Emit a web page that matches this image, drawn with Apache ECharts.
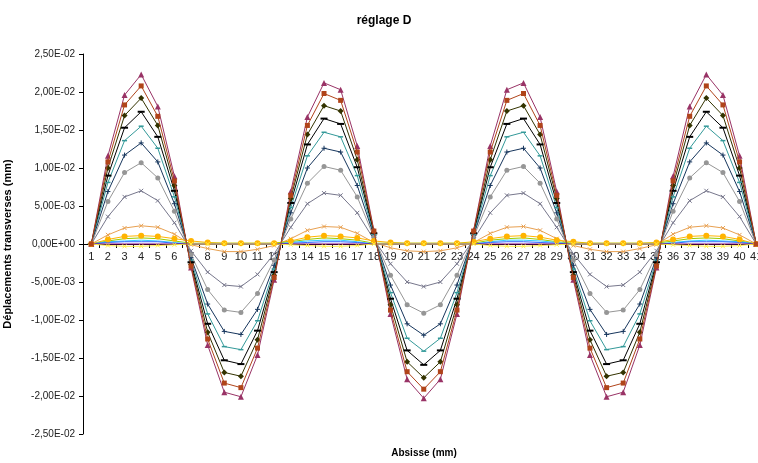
<!DOCTYPE html>
<html>
<head>
<meta charset="utf-8">
<script src="https://cdn.jsdelivr.net/npm/echarts@6/dist/echarts.min.js"></script>
<style>html,body{margin:0;padding:0;background:#fff}#c{width:758px;height:463px}</style>
</head>
<body>
<div id="c"></div>
<script>
const categories = ['1','2','3','4','5','6','7','8','9','10','11','12','13','14','15','16','17','18','19','20','21','22','23','24','25','26','27','28','29','30','31','32','33','34','35','36','37','38','39','40','41'];
const yTicks = [-0.025,-0.02,-0.015,-0.01,-0.005,0,0.005,0.01,0.015,0.02,0.025];

const s1 = [0,.0116,.0196,.0223,.0181,.0089,-.0031,-.0133,-.0195,-.0201,-.0146,-.0047,.0069,.0167,.0212,.0203,.0129,.0018,-.0092,-.0178,-.0203,-.0178,-.0092,.0018,.0129,.0203,.0212,.0167,.0069,-.0047,-.0146,-.0201,-.0195,-.0133,-.0031,.0089,.0181,.0223,.0196,.0116,0];
const s2 = [0,.0108,.0183,.0208,.0168,.0083,-.0029,-.0125,-.0183,-.0189,-.0137,-.0044,.0064,.0156,.0198,.0189,.0121,.0017,-.0087,-.0168,-.0191,-.0168,-.0087,.0017,.0121,.0189,.0198,.0156,.0064,-.0044,-.0137,-.0189,-.0183,-.0125,-.0029,.0083,.0168,.0208,.0183,.0108,0];
const s3 = [0,.0100,.0169,.0192,.0156,.0077,-.0027,-.0116,-.0169,-.0174,-.0126,-.0041,.0060,.0144,.0182,.0175,.0111,.0015,-.0080,-.0155,-.0176,-.0155,-.0080,.0015,.0111,.0175,.0182,.0144,.0060,-.0041,-.0126,-.0174,-.0169,-.0116,-.0027,.0077,.0156,.0192,.0169,.0100,0];
const s4 = [0,.0090,.0153,.0174,.0141,.0070,-.0024,-.0105,-.0153,-.0158,-.0114,-.0037,.0054,.0131,.0165,.0158,.0101,.0014,-.0072,-.0140,-.0159,-.0140,-.0072,.0014,.0101,.0158,.0165,.0131,.0054,-.0037,-.0114,-.0158,-.0153,-.0105,-.0024,.0070,.0141,.0174,.0153,.0090,0];
const s5 = [0,.0081,.0136,.0155,.0126,.0062,-.0021,-.0092,-.0135,-.0139,-.0101,-.0033,.0048,.0116,.0147,.0141,.0090,.0012,-.0064,-.0124,-.0141,-.0124,-.0064,.0012,.0090,.0141,.0147,.0116,.0048,-.0033,-.0101,-.0139,-.0135,-.0092,-.0021,.0062,.0126,.0155,.0136,.0081,0];
const s6 = [0,.0069,.0117,.0133,.0108,.0053,-.0018,-.0079,-.0115,-.0119,-.0086,-.0028,.0041,.0100,.0126,.0121,.0077,.0011,-.0054,-.0105,-.0120,-.0105,-.0054,.0011,.0077,.0121,.0126,.0100,.0041,-.0028,-.0086,-.0119,-.0115,-.0079,-.0018,.0053,.0108,.0133,.0117,.0069,0];
const s7 = [0,.0056,.0094,.0107,.0087,.0043,-.0014,-.0060,-.0087,-.0090,-.0065,-.0021,.0033,.0080,.0102,.0097,.0062,.0009,-.0041,-.0080,-.0091,-.0080,-.0041,.0009,.0062,.0097,.0102,.0080,.0033,-.0021,-.0065,-.0090,-.0087,-.0060,-.0014,.0043,.0087,.0107,.0094,.0056,0];
const s8 = [0,.0036,.0062,.0070,.0057,.0028,-.0009,-.0037,-.0054,-.0056,-.0040,-.0013,.0022,.0053,.0067,.0064,.0041,.0006,-.0026,-.0050,-.0056,-.0050,-.0026,.0006,.0041,.0064,.0067,.0053,.0022,-.0013,-.0040,-.0056,-.0054,-.0037,-.0009,.0028,.0057,.0070,.0062,.0036,0];
const s9 = [0,.0012,.0021,.0024,.0022,.0013,-.0001,-.0006,-.0010,-.0010,-.0007,-.0002,.0007,.0018,.0023,.0022,.0014,.0002,-.0005,-.0009,-.0010,-.0009,-.0005,.0002,.0014,.0022,.0023,.0018,.0007,-.0002,-.0007,-.0010,-.0010,-.0006,-.0001,.0013,.0022,.0024,.0021,.0012,0];
const s10 = [0,.0006,.0010,.0011,.0010,.0007,.0004,.0002,.0001,.0001,.0001,.0001,.0004,.0009,.0011,.0010,.0008,.0004,.0002,.0001,.0001,.0001,.0001,.0003,.0007,.0010,.0011,.0009,.0005,.0003,.0001,.0001,.0001,.0001,.0002,.0006,.0010,.0011,.0010,.0006,0];
const s11 = [0,.0004,.0007,.0008,.0007,.0004,.0001,.0001,.0001,.0001,.0001,.0001,.0003,.0006,.0008,.0007,.0005,.0001,.0001,.0001,.0001,.0001,.0001,.0001,.0005,.0007,.0008,.0006,.0003,.0001,.0001,.0001,.0001,.0001,.0001,.0004,.0007,.0008,.0007,.0004,0];
const s12 = [0,.0003,.0004,.0005,.0004,.0002,0,0,0,0,0,0,.0002,.0004,.0005,.0005,.0003,0,0,0,0,0,0,0,.0003,.0005,.0005,.0004,.0002,0,0,0,0,0,0,.0002,.0004,.0005,.0004,.0003,0];
const s13 = [0,.0002,.0003,.0003,.0003,.0001,0,0,0,0,0,0,.0001,.0002,.0003,.0003,.0002,0,0,0,0,0,0,0,.0002,.0003,.0003,.0002,.0001,0,0,0,0,0,0,.0001,.0003,.0003,.0003,.0002,0];
const s14 = [0,0,0,0,0,0,0,0,0,0,0,0,0,0,0,0,0,0,0,0,0,0,0,0,0,0,0,0,0,0,0,0,0,0,0,0,0,0,0,0,0];
const s15 = [0,-.0002,-.0003,-.0003,-.0002,-.0001,0,0,0,0,0,0,-.0001,-.0002,-.0003,-.0003,-.0002,0,0,0,0,0,0,0,-.0002,-.0003,-.0003,-.0002,-.0001,0,0,0,0,0,0,-.0001,-.0002,-.0003,-.0003,-.0002,0];

const P_DASH = 'path://M0,0H10V2H0Z';
const P_PLUS = 'path://M5,0V10M0,5H10';
const P_X = 'path://M0,0L10,10M10,0L0,10';

const styles = [
  {d:s1, c:'#993366', sym:'triangle', sz:6, z:2},
  {d:s2, c:'#B0441A', sym:'rect', sz:5, z:4},
  {d:s3, c:'#333300', sym:'diamond', sz:6, z:2},
  {d:s4, c:'#000000', sym:P_DASH, sz:[7,2], z:2},
  {d:s5, c:'#339999', sym:P_DASH, sz:[5,1.5], z:2},
  {d:s6, c:'#17365D', sym:P_PLUS, sz:5, z:2, stroke:true},
  {d:s7, c:'#969696', sym:'circle', sz:5, z:2},
  {d:s8, c:'#77778C', sym:P_X, sz:4, z:2, stroke:true},
  {d:s9, c:'#E8A050', sym:P_X, sz:4, z:3, stroke:true},
  {d:s10, c:'#FFB400', sym:'circle', sz:6, z:3},
  {d:s11, c:'#99CC00', sym:'none', sz:0, z:3},
  {d:s12, c:'#33CCFF', sym:'none', sz:0, z:3},
  {d:s13, c:'#3366FF', sym:'none', sz:0, z:3},
  {d:s14, c:'#800080', sym:'none', sz:0, z:3},
  {d:s15, c:'#FFEE44', sym:P_X, sz:4, z:3, stroke:true}
];

function fmt(v){
  if (Math.abs(v) < 1e-12) return '0,00E+00';
  const s = v.toExponential(2);
  const parts = s.split('e');
  const e = parseInt(parts[1], 10);
  return parts[0].replace('.', ',') + 'E' + (e < 0 ? '-' : '+') + String(Math.abs(e)).padStart(2, '0');
}

const FONT = '"Liberation Sans", Arial, sans-serif';
const GRID_TOP = 54, GRID_H = 380;
const chart = echarts.init(document.getElementById('c'), null, {renderer:'canvas'});
chart.setOption({
  animation: false,
  backgroundColor: '#ffffff',
  title: [
    {text:'réglage D', left:379, top:10, textAlign:'center',
     textStyle:{fontFamily:FONT, fontSize:12, fontWeight:'bold', color:'#000'}},
    {text:'Absisse (mm)', left:419, top:443, textAlign:'center',
     textStyle:{fontFamily:FONT, fontSize:10, fontWeight:'bold', color:'#000'}}
  ],
  grid: {left:83, top:GRID_TOP, width:681.5, height:GRID_H, containLabel:false, outerBoundsMode:'none'},
  xAxis: {
    type:'category', data:categories, boundaryGap:true, position:'bottom',
    offset: -GRID_H / 2,
    axisLine:{onZero:false, lineStyle:{color:'#000', width:1}},
    axisTick:{show:true, length:4, lineStyle:{color:'#000'}},
    axisLabel:{interval:0, margin:7, fontFamily:FONT, fontSize:11, color:'#222', hideOverlap:false},
    splitLine:{show:false}
  },
  yAxis: {
    type:'value', min:yTicks[0], max:yTicks[yTicks.length-1], interval:0.005,
    name:'Déplacements transverses (mm)', nameLocation:'middle', nameGap:70, nameRotate:90,
    nameTextStyle:{fontFamily:FONT, fontSize:11, fontWeight:'bold', color:'#000'},
    axisLine:{show:true, lineStyle:{color:'#000', width:1}},
    axisTick:{show:true, length:4, lineStyle:{color:'#000'}},
    axisLabel:{margin:8, fontFamily:FONT, fontSize:10, color:'#222', formatter:fmt},
    splitLine:{show:false}
  },
  series: styles.map((st, i) => ({
    name:'Série' + (i+1), type:'line', data:st.d, z:st.z,
    symbol:st.sym, symbolSize:st.sz, showSymbol:st.sym !== 'none',
    lineStyle:{color:st.c, width:1},
    itemStyle: st.stroke ? {color:st.c, borderColor:st.c, borderWidth:1} : {color:st.c, borderWidth:0},
    emphasis:{disabled:true}
  }))
});
</script>
</body>
</html>
